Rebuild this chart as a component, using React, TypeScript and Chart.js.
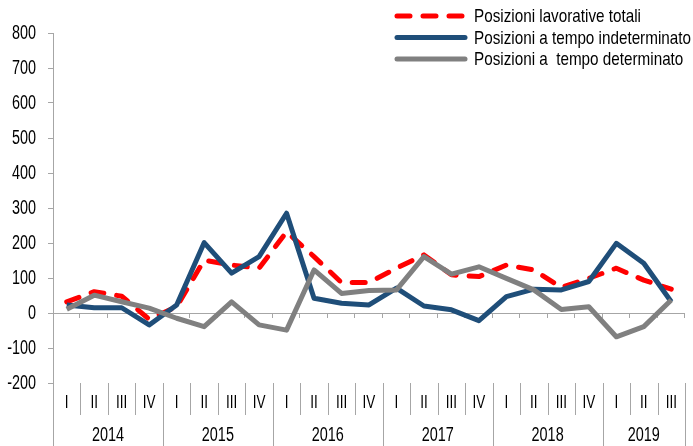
import React, { useEffect, useRef } from "react";
import { Chart, registerables } from "chart.js";

Chart.register(...registerables);

const quarters = ["I", "II", "III", "IV", "I", "II", "III", "IV", "I", "II", "III", "IV", "I", "II", "III", "IV", "I", "II", "III", "IV", "I", "II", "III"];
const years = ["2014", "2015", "2016", "2017", "2018", "2019"];
const quartersPerYear = [4, 4, 4, 4, 4, 3];

const totali = [32, 61, 48, -18, 18, 151, 137, 128, 232, 161, 87, 87, 128, 166, 109, 104, 137, 123, 73, 99, 128, 94, 68];
const indeterminato = [23, 15, 15, -34, 23, 201, 114, 161, 285, 42, 28, 23, 71, 20, 9, -22, 47, 68, 66, 90, 199, 142, 32];
const determinato = [11, 51, 32, 14, -15, -39, 32, -34, -49, 123, 56, 64, 66, 161, 111, 132, 99, 66, 10, 18, -68, -39, 37];

const seriesNames = ["Posizioni lavorative totali", "Posizioni a tempo indeterminato", "Posizioni a  tempo determinato"];
const seriesColors = ["#FF0000", "#1F4E79", "#808080"];

const FONT = "'Liberation Sans', Arial, sans-serif";
const AXIS_COLOR = "#A6A6A6";

function drawText(ctx: CanvasRenderingContext2D, text: string, x: number, y: number, size: number, sx: number, align: CanvasTextAlign) {
  ctx.save();
  ctx.translate(x, y);
  ctx.scale(sx, 1);
  ctx.font = `${size}px ${FONT}`;
  ctx.textAlign = align;
  ctx.textBaseline = "middle";
  ctx.fillStyle = "#000";
  ctx.fillText(text, 0, 0);
  ctx.restore();
}

const customPlugin = {
  id: "custom",
  beforeDatasetsDraw(chart: any) {
    const { ctx, chartArea, scales } = chart;
    const y0 = scales.y.getPixelForValue(0);
    const x = scales.x;
    const half = (x.getPixelForValue(1) - x.getPixelForValue(0)) / 2;
    ctx.save();
    ctx.strokeStyle = AXIS_COLOR;
    ctx.lineWidth = 1;
    ctx.beginPath();
    ctx.moveTo(chartArea.left, Math.round(y0) + 0.5);
    ctx.lineTo(chartArea.right, Math.round(y0) + 0.5);
    for (let i = 1; i <= quarters.length; i++) {
      const bx = Math.round(x.getPixelForValue(i - 1) + half) - 0.5;
      ctx.moveTo(bx, Math.round(y0));
      ctx.lineTo(bx, Math.round(y0) + 5);
    }
    ctx.stroke();
    ctx.restore();
  },
  afterDraw(chart: any) {
    const { ctx, chartArea, scales } = chart;
    const x = scales.x;
    const y = scales.y;
    const half = (x.getPixelForValue(1) - x.getPixelForValue(0)) / 2;
    const bottom = chartArea.bottom;
    ctx.save();
    // y tick labels
    y.ticks.forEach((t: any) => {
      drawText(ctx, String(t.value), chartArea.left - 17, y.getPixelForValue(t.value), 20, 0.72, "right");
    });
    ctx.strokeStyle = AXIS_COLOR;
    ctx.lineWidth = 1;
    let idx = 0;
    const yearStarts: number[] = [0];
    quartersPerYear.forEach((n) => {
      idx += n;
      yearStarts.push(idx);
    });
    ctx.beginPath();
    for (let i = 0; i <= quarters.length; i++) {
      const bx = Math.round(x.getPixelForValue(i) - half) + 0.5;
      const isYear = yearStarts.includes(i);
      ctx.moveTo(bx, bottom);
      ctx.lineTo(bx, isYear ? bottom + 63 : bottom + 32);
    }
    ctx.stroke();
    quarters.forEach((q, i) => {
      drawText(ctx, q, x.getPixelForValue(i), bottom + 20, 18, 0.75, "center");
    });
    years.forEach((yr, k) => {
      const a = x.getPixelForValue(yearStarts[k]) - half;
      const b = x.getPixelForValue(yearStarts[k + 1] - 1) + half;
      drawText(ctx, yr, (a + b) / 2, bottom + 53, 19.5, 0.74, "center");
    });
    // legend
    const rowsY = [16, 37.5, 59];
    seriesNames.forEach((name, i) => {
      ctx.save();
      ctx.strokeStyle = seriesColors[i];
      ctx.lineWidth = 5;
      ctx.lineCap = "round";
      if (i === 0) ctx.setLineDash([13, 13]);
      ctx.beginPath();
      ctx.moveTo(397, rowsY[i]);
      ctx.lineTo(465, rowsY[i]);
      ctx.stroke();
      ctx.restore();
      drawText(ctx, name, 474, rowsY[i] + 1, 18.6, 0.82, "left");
    });
    ctx.restore();
  },
};

export default function App() {
  const ref = useRef<HTMLCanvasElement>(null);
  useEffect(() => {
    if (!ref.current) return;
    const chart = new Chart(ref.current, {
      type: "line",
      data: {
        labels: quarters.map((q, i) => `${q}-${i}`),
        datasets: [
          {
            label: seriesNames[0],
            data: totali,
            borderColor: seriesColors[0],
            borderWidth: 5,
            borderDash: [13, 13],
            borderCapStyle: "round",
            borderJoinStyle: "round",
            pointRadius: 0,
            tension: 0,
            order: 3,
          },
          {
            label: seriesNames[1],
            data: indeterminato,
            borderColor: seriesColors[1],
            borderWidth: 5,
            borderJoinStyle: "round",
            pointRadius: 0,
            tension: 0,
            order: 2,
          },
          {
            label: seriesNames[2],
            data: determinato,
            borderColor: seriesColors[2],
            borderWidth: 5,
            borderJoinStyle: "round",
            pointRadius: 0,
            tension: 0,
            order: 1,
          },
        ],
      },
      options: {
        animation: false,
        responsive: false,
        maintainAspectRatio: false,
        layout: { padding: { top: 33, right: 8, bottom: 63, left: 0 } },
        plugins: { legend: { display: false }, tooltip: { enabled: false } },
        scales: {
          x: { type: "category", display: false, offset: true },
          y: {
            type: "linear",
            min: -200,
            max: 800,
            afterFit: (s: any) => {
              s.width = 53;
            },
            ticks: { stepSize: 100, display: false },
            grid: { drawOnChartArea: false, drawTicks: true, tickLength: 5, color: AXIS_COLOR },
            border: { display: true, color: AXIS_COLOR, width: 1 },
          },
        },
      },
      plugins: [customPlugin],
    });
    return () => chart.destroy();
  }, []);
  return (
    <div style={{ position: "fixed", left: 0, top: 0, width: 693, height: 446, background: "#fff" }}>
      <canvas ref={ref} width={693} height={446} style={{ width: 693, height: 446 }} />
    </div>
  );
}
